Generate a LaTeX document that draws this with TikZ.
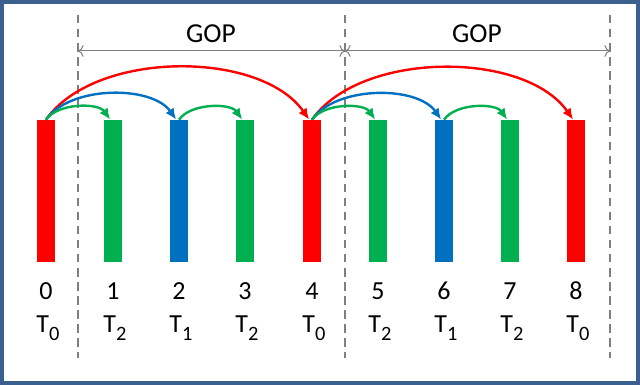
\documentclass[tikz,border=0pt]{standalone}
\usepackage{fontspec}
\setmainfont{Carlito}
\usetikzlibrary{arrows.meta}
\definecolor{fred}{HTML}{FF0000}
\definecolor{fgreen}{HTML}{00B050}
\definecolor{fblue}{HTML}{0070C0}
\definecolor{framec}{HTML}{3B5F8E}
\definecolor{gridc}{HTML}{7F7F7F}
\newcommand{\tlayer}[1]{T\raisebox{-5pt}{\fontsize{14.5}{15}\selectfont #1}}

\begin{document}
\begin{tikzpicture}[x=0.025cm, y=0.025cm,
        frame/.style={draw=framec, line width=0.1cm},
        bar/.style={rectangle, minimum width=0.45cm, minimum height=3.55cm, inner sep=0pt},
        lbl/.style={anchor=base, font=\fontsize{18.5}{20}\selectfont, inner sep=0pt},
        glbl/.style={lbl, font=\fontsize{19.5}{20}\selectfont},
        sep/.style={draw=gridc, dash pattern=on 6pt off 4pt, line width=0.8pt},
        span/.style={draw=gridc, line width=0.7pt, {To[length=4pt]}-{To[length=4pt]}},
        ref/.style={line width=1.7pt, -{Latex[length=8pt,width=7pt]}, out=55, in=125, looseness=0.83}
    ]
    \useasboundingbox (0,0) rectangle (640,385);
    \draw[frame] (2,2) rectangle (638,383);

    %--- GOP boundaries ---
    \coordinate (s0t) at (78,370);  \coordinate (s0b) at (78,27);
    \coordinate (s1t) at (345,370); \coordinate (s1b) at (345,27);
    \coordinate (s2t) at (610,370); \coordinate (s2b) at (610,27);
    \draw[sep] (s0t) -- (s0b);
    \draw[sep] (s1t) -- (s1b);
    \draw[sep] (s2t) -- (s2b);

    \coordinate (g0) at (78,334);
    \coordinate (g1) at (345,334);
    \coordinate (g2) at (610,334);
    \draw[span] (g0) -- (g1);
    \draw[span] (g1) -- (g2);
    \node[glbl] (gopa) at (211,342) {GOP};
    \node[glbl] (gopb) at (477,342) {GOP};

    %--- frames ---
    \node[bar,fill=fred]   (b0) at (46,194)  {};
    \node[bar,fill=fgreen] (b1) at (113,194) {};
    \node[bar,fill=fblue]  (b2) at (179,194) {};
    \node[bar,fill=fgreen] (b3) at (245,194) {};
    \node[bar,fill=fred]   (b4) at (312,194) {};
    \node[bar,fill=fgreen] (b5) at (378,194) {};
    \node[bar,fill=fblue]  (b6) at (444,194) {};
    \node[bar,fill=fgreen] (b7) at (510,194) {};
    \node[bar,fill=fred]   (b8) at (576,194) {};

    %--- frame numbers ---
    \node[lbl] (n0) at (46,85)  {0};
    \node[lbl] (n1) at (113,85) {1};
    \node[lbl] (n2) at (179,85) {2};
    \node[lbl] (n3) at (245,85) {3};
    \node[lbl] (n4) at (312,85) {4};
    \node[lbl] (n5) at (378,85) {5};
    \node[lbl] (n6) at (444,85) {6};
    \node[lbl] (n7) at (510,85) {7};
    \node[lbl] (n8) at (576,85) {8};

    %--- temporal layers ---
    \node[lbl] (t0) at (48,52)  {\tlayer{0}};
    \node[lbl] (t1) at (115,52) {\tlayer{2}};
    \node[lbl] (t2) at (181,52) {\tlayer{1}};
    \node[lbl] (t3) at (247,52) {\tlayer{2}};
    \node[lbl] (t4) at (314,52) {\tlayer{0}};
    \node[lbl] (t5) at (380,52) {\tlayer{2}};
    \node[lbl] (t6) at (446,52) {\tlayer{1}};
    \node[lbl] (t7) at (512,52) {\tlayer{2}};
    \node[lbl] (t8) at (578,52) {\tlayer{0}};

    %--- references ---
    \draw[ref,fred]   (b0.north) to ([xshift=-2pt]b4.north);
    \draw[ref,fblue]  (b0.north) to ([xshift=-2pt]b2.north);
    \draw[ref,fgreen] (b0.north) to ([xshift=-2pt]b1.north);
    \draw[ref,fgreen] (b2.north) to ([xshift=-2pt]b3.north);
    \draw[ref,fred]   (b4.north) to ([xshift=-2pt]b8.north);
    \draw[ref,fblue]  (b4.north) to ([xshift=-2pt]b6.north);
    \draw[ref,fgreen] (b4.north) to ([xshift=-2pt]b5.north);
    \draw[ref,fgreen] (b6.north) to ([xshift=-2pt]b7.north);
\end{tikzpicture}
\end{document}
